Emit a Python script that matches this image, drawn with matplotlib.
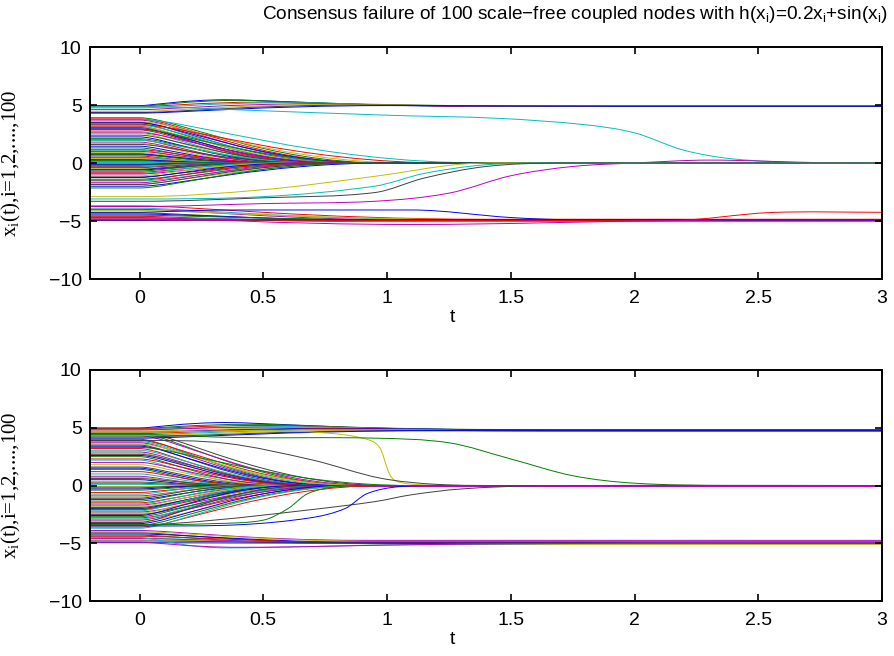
import matplotlib
matplotlib.use("Agg")
import matplotlib.pyplot as plt
from matplotlib.path import Path
from matplotlib.patches import PathPatch

plt.rcParams['font.family'] = ['Liberation Sans', 'DejaVu Sans']
plt.rcParams['mathtext.fontset'] = 'custom'
plt.rcParams['mathtext.rm'] = 'Liberation Sans'

T_MIN, T_MAX = -0.2, 3.0
# old MATLAB line colour order
COLORS = ['#0000ff', '#008000', '#ff0000', '#00bfbf', '#bf00bf', '#bfbf00', '#404040']

# ---------------- top panel ----------------
# nodes that settle smoothly: start value, end value, settle time
TOP_START = [3.9, 3.8, 3.75, 3.7, 3.55, 3.5, 3.45, 3.35, 3.3, 3.25, 3.15, 3.1, 3.05, 2.95, 2.9,
             2.85, 2.7, 2.6, 2.55, 2.4, 2.25, 2.1, 2.0, 1.95, 1.8, 1.7, 1.6, 1.45, 1.3, 1.15,
             1.1, 1.0, 0.9, 0.8, 0.75, 0.7, 0.6, 0.5, 0.45, 0.4, 0.3, 0.25, 0.2, 0.1, 0.05,
             0.0, -0.05, -0.1, -0.15, -0.2, -0.3, -0.35, -0.4, -0.5, -0.55, -0.6, -0.7, -0.8,
             -0.9, -0.95, -1.1, -1.2, -1.25, -1.4, -1.5, -1.55, -1.7, -1.8, -1.85, -2.0, -2.15,
             -3.7, -3.9, -4.0, -4.1, -4.3, -4.4, -4.5, -4.6, -4.75, -4.8, -4.85, -4.9, -4.95]
TOP_END = [0.0] * 71 + [-4.85, -4.9, -4.95, -4.9, -4.95, -5.0, -4.9, -5.05, -4.95, -4.9,
                        -5.0, -4.95, -4.9]
TOP_SETTLE = [1.0, 0.95, 1.4, 0.9, 1.1, 0.85, 0.95, 0.8, 1.25, 0.9, 0.75, 0.85, 0.7, 0.8, 0.95,
              0.75, 0.7, 0.85, 0.65, 0.75, 0.65, 0.7, 0.6, 0.75, 0.6, 0.55, 0.7, 0.55, 0.5, 0.6,
              0.45, 0.55, 0.5, 0.45, 0.55, 0.5, 0.4, 0.45, 0.35, 0.4, 0.35, 0.4, 0.3, 0.3, 0.25,
              0.25, 0.3, 0.3, 0.35, 0.3, 0.45, 0.4, 0.45, 0.5, 0.45, 0.55, 0.5, 0.6,
              0.55, 0.7, 0.6, 0.75, 0.65, 0.8, 0.7, 0.9, 0.8, 0.95, 0.85, 1.0, 0.9,
              1.4, 1.3, 1.2, 1.5, 1.0, 1.2, 1.1, 0.9, 1.3, 1.0, 1.2, 1.1, 0.9]
# nodes joining the upper group: start, time of bump, bump value, end
TOP_UP_START = [4.95, 4.9, 4.85, 4.75, 4.6, 4.45, 4.35, 4.3]
TOP_UP_PEAK_T = [0.35, 0.4, 0.5, 0.6, 0.7, 0.8, 0.9, 1.0]
TOP_UP_PEAK = [5.45, 5.4, 5.25, 5.2, 5.1, 5.05, 5.0, 4.95]
TOP_UP_END = [4.9, 4.9, 4.88, 4.9, 4.87, 4.9, 4.88, 4.9]
# individual slow nodes (t, x), with colour
TOP_SPECIAL = [
    ('#00bfbf', [(-0.2, 4.85), (0, 4.85), (0.5, 4.5), (1.0, 4.12), (1.45, 3.85), (1.8, 3.3),
                 (2.0, 2.6), (2.2, 1.1), (2.4, 0.35), (2.7, 0.02), (3.0, 0.0)]),
    ('#bf00bf', [(-0.2, -3.75), (0, -3.75), (0.5, -3.5), (0.95, -3.3), (1.25, -2.6), (1.5, -1.1),
                 (1.75, -0.3), (2.0, 0.0), (2.3, 0.25), (2.75, 0.03), (3.0, 0.0)]),
    ('#bfbf00', [(-0.2, -2.9), (0, -2.9), (0.5, -2.3), (0.95, -1.15), (1.3, -0.1), (1.6, 0.0),
                 (3.0, 0.0)]),
    ('#00bfbf', [(-0.2, -3.1), (0, -3.1), (0.5, -2.9), (0.95, -2.0), (1.15, -0.9), (1.4, -0.15),
                 (1.7, 0.0), (3.0, 0.0)]),
    ('#404040', [(-0.2, -3.3), (0, -3.3), (0.5, -3.0), (0.95, -2.55), (1.15, -1.3), (1.4, -0.3),
                 (1.7, 0.0), (3.0, 0.0)]),
    ('#0000ff', [(-0.2, -4.25), (0, -4.25), (0.4, -4.05), (1.1, -4.05), (1.5, -4.7), (1.8, -4.92),
                 (3.0, -4.92)]),
    ('#ff0000', [(-0.2, -4.9), (0, -4.9), (1.0, -4.95), (2.15, -4.95), (2.55, -4.27),
                 (3.0, -4.25)]),
    ('#bf00bf', [(-0.2, -4.7), (0, -4.7), (1.1, -5.3), (2.2, -4.95), (3.0, -4.92)]),
]

# ---------------- bottom panel ----------------
BOT_START = [4.6, 4.5, 4.3, 4.0, 3.9, 3.8, 3.7, 3.6, 3.5, 3.4, 3.3, 3.2, 3.05, 2.9, 2.8, 2.7,
             2.6, 2.5, 2.3, 2.2, 2.0, 1.8, 1.6, 1.5, 1.4, 1.2, 1.0, 0.8, 0.7, 0.6, 0.5, 0.3,
             0.2, 0.1, 0.0, -0.1, -0.2, -0.3, -0.4, -0.6, -0.75, -0.9, -1.0, -1.1, -1.2, -1.35,
             -1.5, -1.6, -1.7, -1.8, -1.9, -2.0, -2.05, -2.1, -2.2, -2.3, -2.4, -2.5, -2.6,
             -2.7, -2.8, -2.9, -3.0, -3.1, -3.2, -3.3, -3.45, -3.6, -3.7,
             -3.9, -4.0, -4.1, -4.2, -4.3, -4.4, -4.55, -4.6, -4.7, -4.8, -4.95]
BOT_END = [0.0] * 69 + [-4.75, -4.85, -4.9, -5.0, -4.95, -5.05, -5.0, -4.9, -5.1, -4.95, -5.0]
BOT_SETTLE = [1.0, 0.9, 0.95, 0.8, 0.9, 0.85, 0.8, 0.9, 0.75, 0.8, 1.1, 0.7, 0.75, 0.7, 0.65,
              0.75, 0.7, 0.6, 0.7, 0.55, 0.65, 0.6, 0.55, 0.5, 0.45, 0.5, 0.45, 0.4, 0.4, 0.45,
              0.35, 0.4, 0.3, 0.3, 0.25, 0.3, 0.3, 0.35, 0.4, 0.45, 0.4, 0.5, 0.45, 0.45, 0.55,
              0.5, 0.6, 0.55, 0.65, 0.6, 0.7, 0.65, 0.7, 0.75, 0.6, 0.8, 0.7, 0.85, 0.65,
              0.75, 0.9, 0.75, 0.8, 0.95, 0.7, 0.85, 0.9, 1.0, 0.9,
              0.9, 1.0, 0.8, 1.1, 0.7, 1.2, 0.9, 0.8, 1.3, 1.0, 1.1]
BOT_UP_START = [4.98, 4.95, 4.9, 4.85, 4.8, 4.7, 4.6, 4.5, 4.4, 4.3, 4.2, 4.1]
BOT_UP_PEAK_T = [0.35, 0.45, 0.5, 0.6, 0.5, 0.7, 0.8, 0.8, 0.9, 1.0, 1.1, 1.2]
BOT_UP_PEAK = [5.45, 5.3, 5.2, 5.1, 5.05, 5.0, 4.95, 4.9, 4.85, 4.8, 4.75, 4.75]
BOT_UP_END = [4.85, 4.85, 4.8, 4.8, 4.75, 4.75, 4.8, 4.75, 4.7, 4.7, 4.72, 4.75]
BOT_SPECIAL = [
    ('#bfbf00', [(-0.2, 4.6), (0, 4.6), (0.5, 4.75), (0.75, 4.55), (0.9, 4.1), (0.97, 3.3),
                 (1.01, 1.0), (1.04, 0.35), (1.15, 0.05), (1.4, 0.0), (3.0, 0.0)]),
    ('#008000', [(-0.2, 4.4), (0, 4.4), (0.4, 4.15), (0.95, 4.1), (1.25, 3.7), (1.5, 2.3),
                 (1.75, 0.85), (2.0, 0.2), (2.4, 0.0), (3.0, 0.0)]),
    ('#404040', [(-0.2, 3.9), (0, 3.9), (0.35, 3.65), (0.7, 2.2), (0.97, 0.65), (1.2, 0.1),
                 (1.5, 0.0), (3.0, 0.0)]),
    ('#404040', [(-0.2, -3.4), (0, -3.4), (0.3, -3.0), (0.69, -2.1), (0.95, -1.4), (1.1, -0.8),
                 (1.3, -0.3), (1.6, -0.03), (3.0, 0.0)]),
    ('#0000ff', [(-0.2, -3.5), (0, -3.5), (0.4, -3.4), (0.69, -2.8), (0.83, -2.0), (0.92, -0.7),
                 (1.05, -0.1), (1.3, 0.0), (3.0, 0.0)]),
    ('#008000', [(-0.2, -3.4), (0, -3.4), (0.3, -3.3), (0.5, -3.0), (0.6, -2.0), (0.68, -0.7),
                 (0.8, -0.1), (1.0, 0.0), (3.0, 0.0)]),
    ('#00bfbf', [(-0.2, -4.5), (0, -4.5), (0.35, -5.4), (1.0, -5.15), (2.0, -5.0), (3.0, -4.97)]),
    ('#bf00bf', [(-0.2, -4.9), (0, -4.9), (0.4, -5.35), (1.2, -5.1), (2.2, -4.98), (3.0, -4.97)]),
]


def knot_path(knots):
    ts = [k[0] for k in knots]
    xs = [k[1] for k in knots]
    n = len(knots)
    slope = []
    for i in range(n):
        if i == 0 or i == n - 1 or (xs[i] - xs[i - 1]) * (xs[i + 1] - xs[i]) <= 0:
            slope.append(0.0)
        else:
            slope.append((xs[i + 1] - xs[i - 1]) / (ts[i + 1] - ts[i - 1]))
    verts = [(ts[0], xs[0])]
    codes = [Path.MOVETO]
    for i in range(n - 1):
        dt = ts[i + 1] - ts[i]
        if xs[i] == xs[i + 1] and slope[i] == 0 and slope[i + 1] == 0:
            verts.append((ts[i + 1], xs[i + 1]))
            codes.append(Path.LINETO)
            continue
        if slope[i] == 0 and slope[i + 1] == 0:
            # early departure, gentle tail
            c1 = (ts[i] + 0.15 * dt, xs[i])
            c2 = (ts[i] + 0.5 * dt, xs[i + 1])
        else:
            c1 = (ts[i] + dt / 3, xs[i] + slope[i] * dt / 3)
            c2 = (ts[i + 1] - dt / 3, xs[i + 1] - slope[i + 1] * dt / 3)
        verts += [c1, c2, (ts[i + 1], xs[i + 1])]
        codes += [Path.CURVE4] * 3
    return Path(verts, codes)


def build_curves(start, end, settle, up_start, up_pt, up_pk, up_end, special):
    curves = []
    for s, e, te in zip(start, end, settle):
        curves.append([(T_MIN, s), (0, s), (te, e), (T_MAX, e)])
    for s, pt, pk, e in zip(up_start, up_pt, up_pk, up_end):
        curves.append([(T_MIN, s), (0, s), (pt, pk), (pt + 1.0, e), (T_MAX, e)])
    # sort by start value so colours mix through the bundle like the original
    order = sorted(range(len(curves)), key=lambda k: -curves[k][0][1])
    out = [(COLORS[j % len(COLORS)], curves[k]) for j, k in enumerate(order)]
    return out + list(special)


fig = plt.figure(figsize=(8.95, 6.56), dpi=100)
ax1 = fig.add_axes([90 / 895, 1 - 279 / 656, 792 / 895, 232 / 656])
ax2 = fig.add_axes([90 / 895, 1 - 601 / 656, 792 / 895, 231 / 656])

panels = [
    (ax1, build_curves(TOP_START, TOP_END, TOP_SETTLE, TOP_UP_START, TOP_UP_PEAK_T,
                       TOP_UP_PEAK, TOP_UP_END, TOP_SPECIAL)),
    (ax2, build_curves(BOT_START, BOT_END, BOT_SETTLE, BOT_UP_START, BOT_UP_PEAK_T,
                       BOT_UP_PEAK, BOT_UP_END, BOT_SPECIAL)),
]

xticks = [0, 0.5, 1, 1.5, 2, 2.5, 3]
yticks = [-10, -5, 0, 5, 10]
for ax, curves in panels:
    for color, knots in curves:
        ax.add_patch(PathPatch(knot_path(knots), facecolor='none', edgecolor=color, lw=0.7))
    ax.set_xlim(T_MIN, T_MAX)
    ax.set_ylim(-10, 10)
    ax.set_xticks(xticks)
    ax.set_xticklabels(['0', '0.5', '1', '1.5', '2', '2.5', '3'])
    ax.set_yticks(yticks)
    ax.set_yticklabels(['\u221210', '\u22125', '0', '5', '10'])
    ax.tick_params(direction='in', top=True, right=True, length=5, width=1.2, labelsize=14)
    ax.tick_params(axis='x', pad=8)
    ax.tick_params(axis='y', pad=6)
    for sp in ax.spines.values():
        sp.set_linewidth(1.4)
    ax.set_xlabel('t', fontsize=14, labelpad=2)
    ax.xaxis.set_label_coords(0.457, -0.13)
    ax.set_ylabel(r'x$\mathregular{_i}$(t),i=1,2,....,100', family='Liberation Serif', fontsize=15)
    ax.yaxis.set_label_coords(-0.085, 0.5)

fig.text(0.642, 0.978, 'Consensus failure of 100 scale\u2212free coupled nodes with '
         r'h(x$\mathregular{_i}$)=0.2x$\mathregular{_i}$+sin(x$\mathregular{_i}$)',
         ha='center', va='center', fontsize=13.7)

fig.savefig('out.png', dpi=100)
